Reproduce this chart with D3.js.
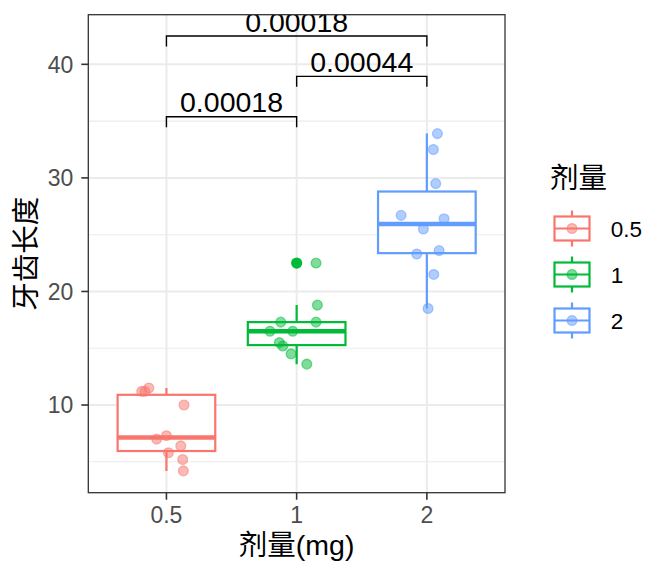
<!DOCTYPE html>
<html>
<head>
<meta charset="utf-8">
<script src="https://cdn.jsdelivr.net/npm/d3@7"></script>
<style>
  body { margin: 0; background: #fff; }
  text { font-family: "Liberation Sans", "Noto Sans CJK SC", sans-serif; }
</style>
</head>
<body>
<div id="chart"></div>
<script>
// data: tooth length per dose (VC)
var doses = ["0.5", "1", "2"];
var len05 = [4.2, 11.5, 7.3, 5.8, 6.4, 10, 11.2, 11.2, 5.2, 7];
var len1 = [16.5, 16.5, 15.2, 17.3, 22.5, 17.3, 13.6, 14.5, 18.8, 15.5];
var len2 = [23.6, 18.5, 33.9, 25.5, 26.4, 32.5, 26.7, 21.5, 23.3, 29.5];
// jitter offsets (fraction of a category step)
var jit05 = [0.13, -0.135, 0.0, 0.015, 0.11, 0.135, -0.19, -0.165, 0.125, -0.075];
var jit1 = [-0.205, -0.03, -0.107, -0.122, 0.149, 0.149, 0.078, -0.043, 0.159, -0.133];
var jit2 = [0.094, 0.009, 0.081, -0.027, 0.132, 0.05, -0.198, 0.053, -0.078, 0.068];
// comparisons and p values
var compPairs = [["0.5", "1"], ["1", "2"], ["0.5", "2"]];
var compLabels = ["0.00018", "0.00044", "0.00018"];
var yTicks = [10, 20, 30, 40];
var yMinor = [5, 15, 25, 35];

var colors = ["#F8766D", "#00BA38", "#619CFF"];
var groups = [len05, len1, len2];
var jitters = [jit05, jit1, jit2];

var svgWidth = 672;
var svgHeight = 576;
var panel = { left: 88.3, right: 505, top: 14.7, bottom: 492.7 };

var svg = d3.select("#chart")
    .append("svg")
    .attr("width", svgWidth)
    .attr("height", svgHeight);

var xscale = d3.scalePoint()
    .domain(doses)
    .range([panel.left, panel.right])
    .padding(0.6);
var step = xscale.step();

var yscale = d3.scaleLinear()
    .domain([2.28, 44.37])
    .range([panel.bottom, panel.top]);

svg.append("defs").append("clipPath")
    .attr("id", "clip")
    .append("rect")
    .attr("x", panel.left)
    .attr("y", panel.top)
    .attr("width", panel.right - panel.left)
    .attr("height", panel.bottom - panel.top);

var plot = svg.append("g").attr("clip-path", "url(#clip)");

// grid lines
plot.selectAll(".minor")
    .data(yMinor)
    .enter()
    .append("line")
    .attr("x1", panel.left).attr("x2", panel.right)
    .attr("y1", d => yscale(d)).attr("y2", d => yscale(d))
    .attr("stroke", "#EBEBEB")
    .attr("stroke-width", 1.1);
plot.selectAll(".major")
    .data(yTicks)
    .enter()
    .append("line")
    .attr("x1", panel.left).attr("x2", panel.right)
    .attr("y1", d => yscale(d)).attr("y2", d => yscale(d))
    .attr("stroke", "#EBEBEB")
    .attr("stroke-width", 2);
plot.selectAll(".vmajor")
    .data(doses)
    .enter()
    .append("line")
    .attr("x1", d => xscale(d)).attr("x2", d => xscale(d))
    .attr("y1", panel.top).attr("y2", panel.bottom)
    .attr("stroke", "#EBEBEB")
    .attr("stroke-width", 2);

// box stats
var stats = groups.map(function (vals, i) {
    var s = vals.slice().sort(d3.ascending);
    var q1 = d3.quantile(s, 0.25), med = d3.quantile(s, 0.5), q3 = d3.quantile(s, 0.75);
    var iqr = q3 - q1;
    var inside = s.filter(v => v >= q1 - 1.5 * iqr && v <= q3 + 1.5 * iqr);
    return {
        dose: doses[i], color: colors[i], q1: q1, med: med, q3: q3,
        lo: d3.min(inside), hi: d3.max(inside),
        out: s.filter(v => v < q1 - 1.5 * iqr || v > q3 + 1.5 * iqr)
    };
});

var boxW = step * 0.75;
var boxes = plot.selectAll(".box")
    .data(stats)
    .enter()
    .append("g");

boxes.append("line")
    .attr("x1", d => xscale(d.dose)).attr("x2", d => xscale(d.dose))
    .attr("y1", d => yscale(d.hi)).attr("y2", d => yscale(d.q3))
    .attr("stroke", d => d.color).attr("stroke-width", 2.2);
boxes.append("line")
    .attr("x1", d => xscale(d.dose)).attr("x2", d => xscale(d.dose))
    .attr("y1", d => yscale(d.q1)).attr("y2", d => yscale(d.lo))
    .attr("stroke", d => d.color).attr("stroke-width", 2.2);
boxes.append("rect")
    .attr("x", d => xscale(d.dose) - boxW / 2)
    .attr("width", boxW)
    .attr("y", d => yscale(d.q3))
    .attr("height", d => yscale(d.q1) - yscale(d.q3))
    .attr("fill", "white")
    .attr("stroke", d => d.color).attr("stroke-width", 2.2);
boxes.append("line")
    .attr("x1", d => xscale(d.dose) - boxW / 2).attr("x2", d => xscale(d.dose) + boxW / 2)
    .attr("y1", d => yscale(d.med)).attr("y2", d => yscale(d.med))
    .attr("stroke", d => d.color).attr("stroke-width", 4.5);
boxes.selectAll(".out")
    .data(d => d.out.map(v => ({ v: v, dose: d.dose, color: d.color })))
    .enter()
    .append("circle")
    .attr("cx", d => xscale(d.dose))
    .attr("cy", d => yscale(d.v))
    .attr("r", 5.6)
    .attr("fill", d => d.color);

// jittered points
var pts = [];
groups.forEach(function (vals, i) {
    vals.forEach(function (v, j) {
        pts.push({ dose: doses[i], v: v, jx: jitters[i][j], color: colors[i] });
    });
});
plot.selectAll(".pt")
    .data(pts)
    .enter()
    .append("circle")
    .attr("cx", d => xscale(d.dose) + d.jx * step)
    .attr("cy", d => yscale(d.v))
    .attr("r", 4.9)
    .attr("fill", d => d.color)
    .attr("fill-opacity", 0.5)
    .attr("stroke", d => d.color)
    .attr("stroke-opacity", 0.5)
    .attr("stroke-width", 1.3);

// significance brackets
var tip = 10.5;
compPairs.forEach(function (pair, i) {
    var level = 35.39 + i * 3.55;
    var x1 = xscale(pair[0]), x2 = xscale(pair[1]), y = yscale(level);
    plot.append("path")
        .attr("d", `M${x1},${y + tip}V${y}H${x2}V${y + tip}`)
        .attr("fill", "none")
        .attr("stroke", "black")
        .attr("stroke-width", 1.4);
    plot.append("text")
        .attr("x", (x1 + x2) / 2)
        .attr("y", y - 4.3)
        .attr("text-anchor", "middle")
        .style("font-size", "28.5px")
        .attr("fill", "black")
        .text(compLabels[i]);
});

// panel border
svg.append("rect")
    .attr("x", panel.left).attr("y", panel.top)
    .attr("width", panel.right - panel.left)
    .attr("height", panel.bottom - panel.top)
    .attr("fill", "none")
    .attr("stroke", "#333333")
    .attr("stroke-width", 1.3);

// axes ticks + labels
svg.selectAll(".ytick")
    .data(yTicks)
    .enter()
    .append("line")
    .attr("x1", panel.left - 7).attr("x2", panel.left)
    .attr("y1", d => yscale(d)).attr("y2", d => yscale(d))
    .attr("stroke", "#333333").attr("stroke-width", 1.6);
svg.selectAll(".ylab")
    .data(yTicks)
    .enter()
    .append("text")
    .attr("x", 73.3)
    .attr("y", d => yscale(d) + 8.2)
    .attr("text-anchor", "end")
    .style("font-size", "23px")
    .attr("fill", "#4D4D4D")
    .text(d => d);
svg.selectAll(".xtick")
    .data(doses)
    .enter()
    .append("line")
    .attr("x1", d => xscale(d)).attr("x2", d => xscale(d))
    .attr("y1", panel.bottom).attr("y2", panel.bottom + 7)
    .attr("stroke", "#333333").attr("stroke-width", 1.6);
svg.selectAll(".xlab")
    .data(doses)
    .enter()
    .append("text")
    .attr("x", d => xscale(d))
    .attr("y", 523.3)
    .attr("text-anchor", "middle")
    .style("font-size", "23px")
    .attr("fill", "#4D4D4D")
    .text(d => d);

// axis titles
svg.append("text")
    .attr("x", (panel.left + panel.right) / 2)
    .attr("y", 555)
    .attr("text-anchor", "middle")
    .style("font-size", "28.5px")
    .text("剂量(mg)");
svg.append("text")
    .attr("transform", `translate(36, ${(panel.top + panel.bottom) / 2}) rotate(-90)`)
    .attr("text-anchor", "middle")
    .style("font-size", "28.5px")
    .text("牙齿长度");

// legend
var legend = svg.append("g");
legend.append("text")
    .attr("x", 550)
    .attr("y", 188)
    .style("font-size", "28.5px")
    .text("剂量");
var keys = legend.selectAll(".key")
    .data(doses)
    .enter()
    .append("g")
    .attr("transform", (d, i) => `translate(572, ${228.5 + i * 46})`);
keys.append("line")
    .attr("x1", 0).attr("x2", 0).attr("y1", -18).attr("y2", 18)
    .attr("stroke", (d, i) => colors[i]).attr("stroke-width", 2.2);
keys.append("rect")
    .attr("x", -17.5).attr("y", -12).attr("width", 35).attr("height", 24)
    .attr("fill", "white")
    .attr("stroke", (d, i) => colors[i]).attr("stroke-width", 2.2);
keys.append("line")
    .attr("x1", -17.5).attr("x2", 17.5).attr("y1", 0).attr("y2", 0)
    .attr("stroke", (d, i) => colors[i]).attr("stroke-width", 2.2);
keys.append("circle")
    .attr("r", 4.9)
    .attr("fill", (d, i) => colors[i]).attr("fill-opacity", 0.5)
    .attr("stroke", (d, i) => colors[i]).attr("stroke-opacity", 0.5)
    .attr("stroke-width", 1.3);
keys.append("text")
    .attr("x", 38.7)
    .attr("y", 8.2)
    .style("font-size", "22.5px")
    .text(d => d);
</script>
</body>
</html>
